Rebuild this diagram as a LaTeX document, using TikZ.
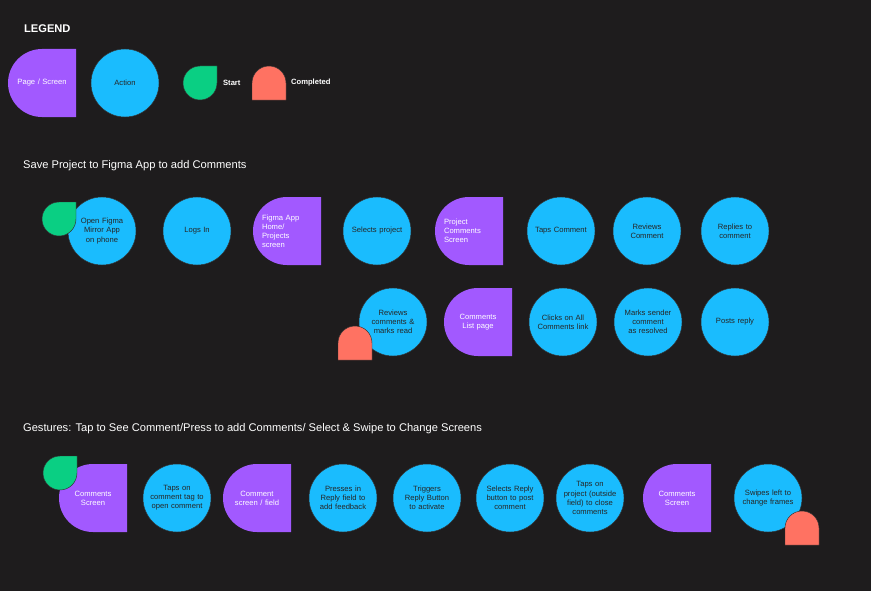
\documentclass[tikz,border=0pt]{standalone}
\usepackage{fontspec}
\setmainfont{Liberation Sans}
\usetikzlibrary{calc,backgrounds,arrows.meta}
\definecolor{bgdark}{HTML}{1E1C1D}
\definecolor{pagecol}{HTML}{A259FF}
\definecolor{actcol}{HTML}{1ABCFE}
\definecolor{startcol}{HTML}{0ACF83}
\definecolor{donecol}{HTML}{FF7262}
\definecolor{linecol}{HTML}{9A9A9A}
\tikzset{
action/.style = {circle, fill=actcol, draw=black!80, minimum size=2.04cm,
                 inner sep=0pt, text width=1.6cm, align=center,
                 font=\fontsize{6.5}{7.8}\selectfont, text=black!85},
page/.style = {rectangle, minimum size=2.04cm, inner sep=0pt,
               text width=1.5cm, align=center, text=white,
               font=\fontsize{6.5}{7.8}\selectfont},
flow/.style = {draw=linecol, line width=0.8pt},
title/.style = {anchor=west, text=white, font=\fontsize{9.5}{11}\selectfont}
}
% page shape: round on the left, square on the right
\newcommand\pagebox[4][]{%
  \fill[pagecol] ($#3+(34,-34)$) [rounded corners=1.02cm] -- ($#3+(-34,-34)$)
     -- ($#3+(-34,34)$) [sharp corners] -- ($#3+(34,34)$) -- cycle;
  \node[page,#1] (#2) at #3 {#4};}
% start drop and completed cap
\newcommand\startmark[1]{%
  \fill[startcol, draw=black!80] ($#1+(17,-17)$) [rounded corners=0.51cm] -- ($#1+(-17,-17)$)
     -- ($#1+(-17,17)$) -- ($#1+(17,17)$) [sharp corners] -- cycle;}
\newcommand\donemark[1]{%
  \fill[donecol, draw=black!80] ($#1+(17,17)$) [rounded corners=0.51cm] -- ($#1+(17,-17)$)
     -- ($#1+(-17,-17)$) [sharp corners] -- ($#1+(-17,17)$) -- cycle;}

\begin{document}
\begin{tikzpicture}[x=0.03cm, y=-0.03cm]
	\fill[bgdark] (0,0) rectangle (871,591);
	\useasboundingbox (0,0) rectangle (871,591);

	% Legend
	\node[anchor=west, text=white, font=\bfseries\fontsize{9.5}{11}\selectfont] (legend) at (20,29) {LEGEND};
	\pagebox{lpage}{(42,83)}{Page / Screen}
	\node[action] (laction) at (125,83) {Action};
	\startmark{(200,83)}
	\node[anchor=west, text=white, font=\bfseries\fontsize{6.5}{8}\selectfont] (lstart) at (219,83) {Start};
	\donemark{(269,83)}
	\node[anchor=west, text=white, font=\bfseries\fontsize{6.5}{8}\selectfont] (ldone) at (287,83) {Completed};

	% Save project flow
	\node[title] (t1) at (19,166) {Save Project to Figma App to add Comments};
	\node[action] (open) at (102,231) {Open Figma Mirror App on phone};
	\node[action] (login) at (197,231) {Logs In};
	\pagebox[align=left]{home}{(287,231)}{Figma App\\Home/\\Projects\\screen}
	\node[action] (select) at (377,231) {Selects project};
	\pagebox[align=left]{projcom}{(469,231)}{Project\\Comments\\Screen}
	\node[action] (taps) at (561,231) {Taps Comment};
	\node[action] (reviews) at (647,231) {Reviews Comment};
	\node[action] (replies) at (735,231) {Replies to comment};
	\node[action] (posts) at (735,322) {Posts reply};
	\node[action] (marks) at (648,322) {Marks sender comment as resolved};
	\node[action] (clicks) at (563,322) {Clicks on All Comments link};
	\pagebox{comlist}{(478,322)}{Comments List page};
	\node[action] (reviewall) at (393,322) {Reviews comments \& marks read};
	\startmark{(59,219)}
	\donemark{(355,343)}

	% Gestures flow
	\node[title] (t2) at (19,429) {Gestures: Tap to See Comment/Press to add Comments/ Select \& Swipe to Change Screens};
	\pagebox{comscr}{(93,498)}{Comments Screen}
	\node[action] (tapstag) at (177,498) {Taps on comment tag to open comment};
	\pagebox{comfield}{(257,498)}{Comment screen / field}
	\node[action] (presses) at (343,498) {Presses in Reply field to add feedback};
	\node[action] (triggers) at (427,498) {Triggers Reply Button to activate};
	\node[action] (selreply) at (510,498) {Selects Reply button to post comment};
	\node[action] (tapsout) at (590,498) {Taps on project (outside field) to close comments};
	\pagebox{comscr2}{(677,498)}{Comments Screen}
	\node[action] (swipes) at (768,498) {Swipes left to change frames};
	\startmark{(60,473)}
	\donemark{(802,528)}

	% Connectors
	\begin{scope}[on background layer]
		\draw[flow] (open) -- (login) -- (home) -- (select) -- (projcom) -- (taps)
			-- (reviews) -- (replies) -- (posts) -- (marks) -- (clicks) -- (comlist);
		\draw[flow, -{Latex[length=4pt,width=3pt]}] (comlist) -- (reviewall);
		\draw[flow] (comscr) -- (tapstag) -- (comfield) -- (presses) -- (triggers)
			-- (selreply) -- (tapsout) -- (comscr2);
		\draw[flow, -{Latex[length=4pt,width=3pt]}] (comscr2) -- (swipes);
	\end{scope}
\end{tikzpicture}
\end{document}
